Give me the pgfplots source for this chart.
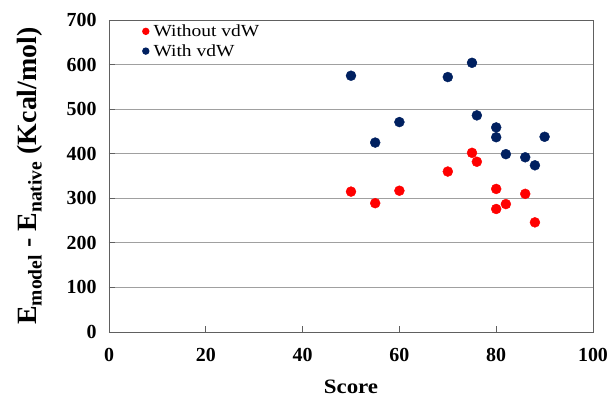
\documentclass[border=0pt]{standalone}
\usepackage{fontspec}
\setmainfont{Liberation Serif}
\newfontfamily\legfont[FakeStretch=1.15]{Liberation Serif}
\newfontfamily\lblfont[FakeStretch=1.12]{Liberation Serif}
\usepackage{pgfplots}
\pgfplotsset{compat=1.18}
\definecolor{navy}{HTML}{002060}
\definecolor{gridc}{HTML}{A0A0A0}
\definecolor{axc}{HTML}{606060}
\begin{document}
\begin{tikzpicture}[x=1bp,y=1bp]
\useasboundingbox (-109bp,-71bp) rectangle (501bp,332bp);
\begin{axis}[
  scale only axis,
  width=484bp, height=312bp,
  xmin=0, xmax=100, ymin=0, ymax=700,
  xtick={0,20,...,100}, ytick={0,100,...,700},
  ymajorgrids, grid style={gridc, line width=0.9pt},
  axis line style={axc, line width=0.9pt},
  tick style={axc, line width=0.9pt},
  major tick length=6bp,
  tick align=inside,
  xtick pos=bottom, ytick pos=left,
  ticklabel style={font=\fontsize{20}{22}\selectfont\bfseries},
  yticklabel style={xshift=-9bp},
  xticklabel style={yshift=-13bp},
  /pgf/number format/assume math mode=true,
  xlabel={Score},
  xlabel style={font=\lblfont\fontsize{20.5}{24}\selectfont\bfseries, at={(axis description cs:0.5,0)}, anchor=center, yshift=-55bp},
  ylabel={E\textsubscript{model} - E\textsubscript{native} (Kcal/mol)},
  ylabel style={font=\fontsize{28}{32}\selectfont\bfseries, at={(axis description cs:-0.1632,0.5)}, anchor=center},
  legend style={at={(axis description cs:0.068,0.932)}, anchor=west, draw=none, fill=none,
    font=\legfont\fontsize{17}{19}\selectfont, row sep=6.5bp, inner sep=0pt, column sep=4bp,
    nodes={inner sep=0pt}},
  legend cell align=left,
  legend image code/.code={\fill[#1] (0bp,0bp) circle (3.7bp);},
]
\addplot[only marks, mark=*, mark size=5pt, color=red, draw=none, fill=red] coordinates {
(50,315) (55,289) (60,317) (70,360) (75,402) (76,382) (80,321) (80,276) (82,287) (86,310) (88,246)
};
\addlegendentry{Without vdW}
\addplot[only marks, mark=*, mark size=5pt, color=navy, draw=none, fill=navy] coordinates {
(50,575) (55,425) (60,471) (70,572) (75,604) (76,486) (80,459) (80,437) (90,438) (82,399) (86,392) (88,374)
};
\addlegendentry{With vdW}
\end{axis}
\end{tikzpicture}
\end{document}
